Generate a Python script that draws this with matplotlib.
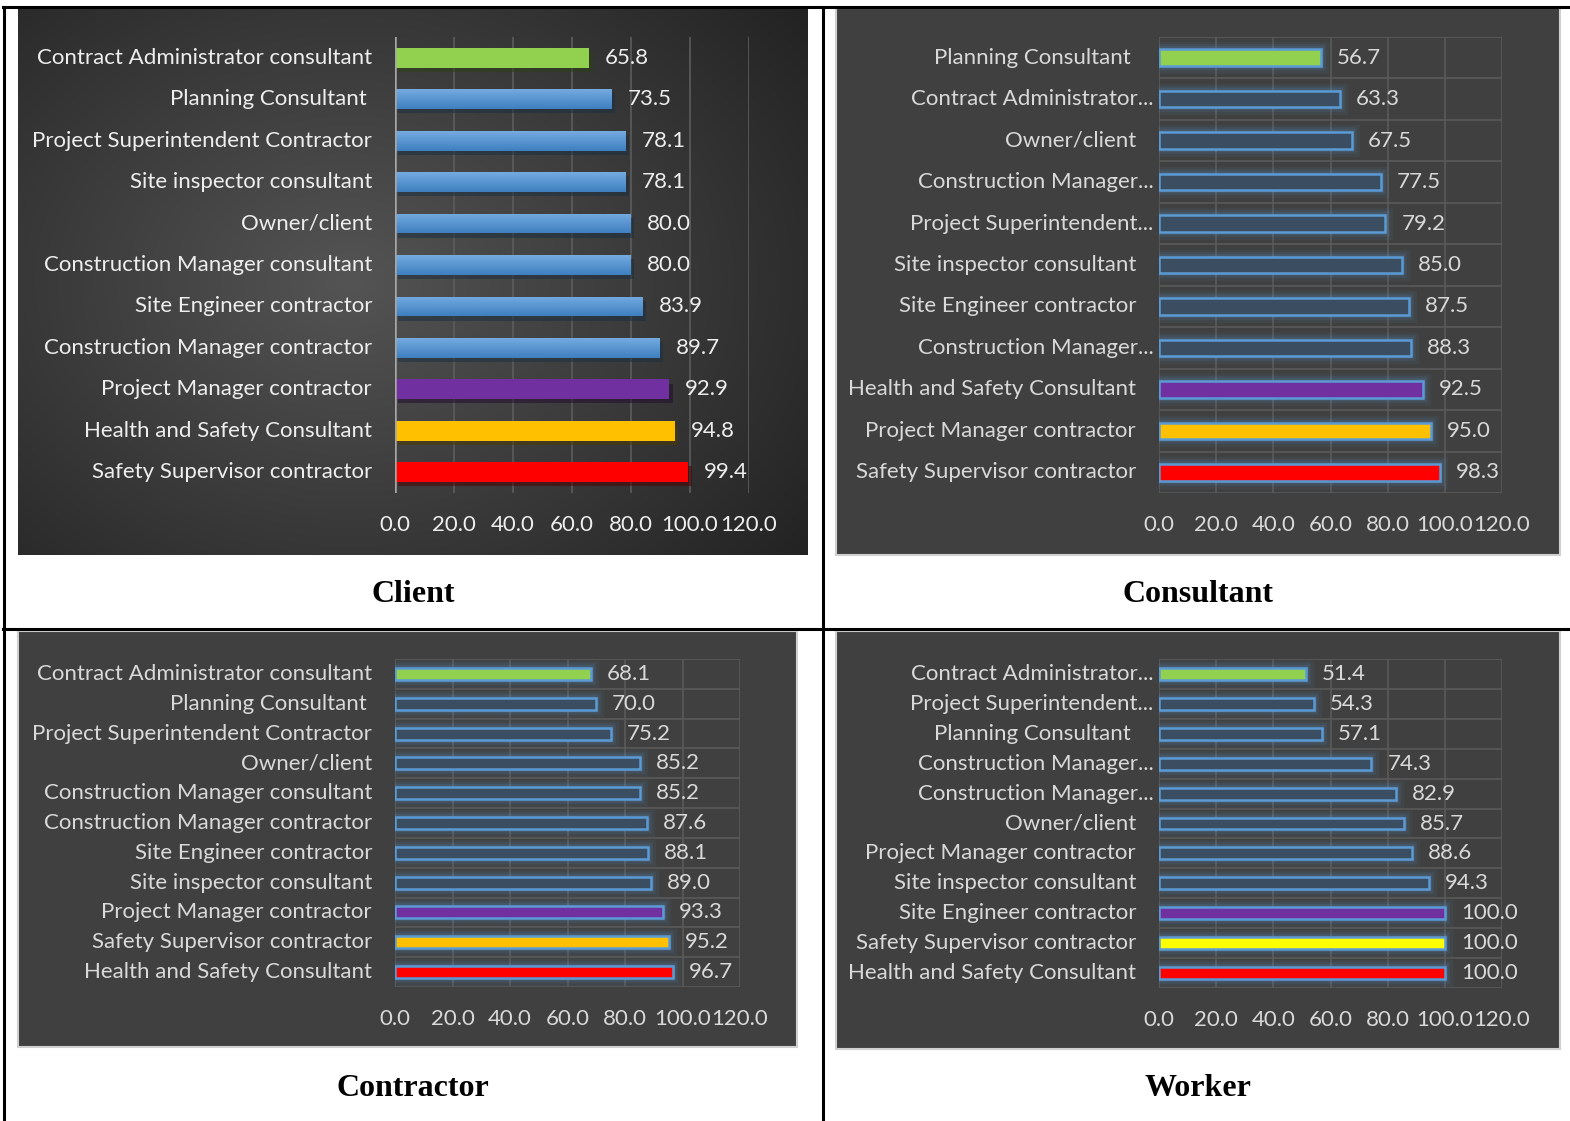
import matplotlib
matplotlib.use("Agg")
import matplotlib.pyplot as plt
import matplotlib.patheffects as pe
from matplotlib.lines import Line2D
from matplotlib.patches import Rectangle
import numpy as np

W, H = 1570, 1121

# ---- data (top to bottom as shown) ----
client_labels = [
    "Contract Administrator consultant", "Planning Consultant ",
    "Project Superintendent Contractor", "Site inspector consultant",
    "Owner/client", "Construction Manager consultant", "Site Engineer contractor",
    "Construction Manager contractor", "Project Manager contractor",
    "Health and Safety Consultant", "Safety Supervisor contractor",
]
client_values = [65.8, 73.5, 78.1, 78.1, 80.0, 80.0, 83.9, 89.7, 92.9, 94.8, 99.4]

consultant_labels = [
    "Planning Consultant ", "Contract Administrator...", "Owner/client",
    "Construction Manager...", "Project Superintendent...", "Site inspector consultant",
    "Site Engineer contractor", "Construction Manager...", "Health and Safety Consultant",
    "Project Manager contractor", "Safety Supervisor contractor",
]
consultant_values = [56.7, 63.3, 67.5, 77.5, 79.2, 85.0, 87.5, 88.3, 92.5, 95.0, 98.3]

contractor_labels = [
    "Contract Administrator consultant", "Planning Consultant ",
    "Project Superintendent Contractor", "Owner/client",
    "Construction Manager consultant", "Construction Manager contractor",
    "Site Engineer contractor", "Site inspector consultant",
    "Project Manager contractor", "Safety Supervisor contractor",
    "Health and Safety Consultant",
]
contractor_values = [68.1, 70.0, 75.2, 85.2, 85.2, 87.6, 88.1, 89.0, 93.3, 95.2, 96.7]

worker_labels = [
    "Contract Administrator...", "Project Superintendent...", "Planning Consultant ",
    "Construction Manager...", "Construction Manager...", "Owner/client",
    "Project Manager contractor", "Site inspector consultant", "Site Engineer contractor",
    "Safety Supervisor contractor", "Health and Safety Consultant",
]
worker_values = [51.4, 54.3, 57.1, 74.3, 82.9, 85.7, 88.6, 94.3, 100.0, 100.0, 100.0]

x_ticks = [0, 20, 40, 60, 80, 100, 120]

# ---- styles ----
BLUE = "#5b9bd5"
GREEN = "#92d050"
PURPLE = "#7030a0"
ORANGE = "#ffc000"
RED = "#ff0000"
client_colors = [GREEN] + [BLUE] * 7 + [PURPLE, ORANGE, RED]
outline_colors = [GREEN] + [None] * 7 + [PURPLE, ORANGE, RED]
worker_colors = [GREEN] + [None] * 7 + [PURPLE, "#ffff00", RED]

FONT = "Lato"
LABEL_SIZE = 16

plt.rcParams["font.family"] = [FONT, "DejaVu Sans"]

fig = plt.figure(figsize=(W / 100, H / 100), dpi=100)


def fx(px):
    return px / W


def fy(py):
    return 1 - py / H


def add_axes_px(x0, y0, x1, y1, **kw):
    return fig.add_axes([fx(x0), fy(y1), fx(x1) - fx(x0), (y1 - y0) / H], **kw)


# ---- panel backgrounds ----
bg = add_axes_px(18, 8, 808, 555, zorder=0)
yy, xx = np.mgrid[0:1:300j, 0:1:400j]
r = np.sqrt(((xx - 0.42) / 0.75) ** 2 + ((yy - 0.5) / 0.85) ** 2)
shade = np.clip(0.33 - 0.2 * r, 0.13, 0.33)
bg.imshow(np.dstack([shade] * 3), aspect="auto", extent=[0, 1, 0, 1], interpolation="bilinear")
bg.set_axis_off()

for (x0, y0, x1, y1) in [(836, 8, 1560, 555), (18, 631, 797, 1047), (836, 631, 1560, 1049)]:
    fig.add_artist(Rectangle((fx(x0), fy(y1)), fx(x1) - fx(x0), (y1 - y0) / H,
                             transform=fig.transFigure, facecolor="#404040",
                             edgecolor="#d0d0d0", linewidth=1.5, zorder=0))

# ---- table lines ----
line_kw = dict(color="black", linewidth=2.2, transform=fig.transFigure, zorder=5)
fig.add_artist(Line2D([fx(3), 1], [fy(6.5), fy(6.5)], **line_kw))
fig.add_artist(Line2D([fx(3), 1], [fy(629), fy(629)], **line_kw))
fig.add_artist(Line2D([fx(3.5), fx(3.5)], [fy(6.5), 0], **line_kw))
fig.add_artist(Line2D([fx(822.5), fx(822.5)], [fy(6.5), 0], **line_kw))

# ---- captions ----
for text, cx, cy in [("Client", 413, 594), ("Consultant", 1198, 594),
                     ("Contractor", 413, 1088), ("Worker", 1198, 1088)]:
    fig.text(fx(cx), fy(cy), text, ha="center", va="center", fontsize=23,
             fontweight="bold", family="Liberation Serif")


def setup_axis(ax, labels, text_color):
    n = len(labels)
    ax.set_xlim(0, 120)
    ax.set_ylim(n - 0.5, -0.5)
    ax.set_facecolor("none")
    for s in ax.spines.values():
        s.set_visible(False)
    ax.set_yticks([])
    ax.set_xticks(x_ticks, [f"{t:.1f}" for t in x_ticks])
    ax.tick_params(axis="x", length=0, pad=16, labelsize=LABEL_SIZE, labelcolor=text_color)
    for i, lab in enumerate(labels):
        pad = -4 if lab.endswith("...") else -16.5
        ax.annotate(lab, xy=(0, i), xytext=(pad, 0), textcoords="offset points",
                    ha="right", va="center", fontsize=LABEL_SIZE, color=text_color,
                    annotation_clip=False)


def value_labels(ax, values, text_color):
    for i, v in enumerate(values):
        ax.annotate(f"{v:.1f}", xy=(v, i), xytext=(11.5, 0), textcoords="offset points",
                    ha="left", va="center", fontsize=LABEL_SIZE, color=text_color,
                    annotation_clip=False)


# ---- Client panel ----
ax = add_axes_px(395, 37, 749, 493, zorder=2)
setup_axis(ax, client_labels, "#eeeeee")
for t in x_ticks[1:]:
    ax.axvline(t, color="#5c5c5c", linewidth=1.2, zorder=1)
ax.axvline(0, color="#a6a6a6", linewidth=1.8, zorder=4)
y = np.arange(len(client_values))
bars = ax.barh(y, client_values, height=0.48, color=client_colors, zorder=3,
               path_effects=[pe.SimplePatchShadow(offset=(2.5, -3), alpha=0.55), pe.Normal()])
grad = np.linspace(0, 1, 50)[:, None]
for bar, col, val, yi in zip(bars, client_colors, client_values, y):
    if col == BLUE:
        cm = matplotlib.colors.LinearSegmentedColormap.from_list("b", ["#74abe0", "#3f7fc0"])
        im = ax.imshow(grad, cmap=cm, aspect="auto", extent=[0, val, yi + 0.24, yi - 0.24],
                       zorder=3.5, interpolation="bilinear")
        im.set_clip_path(bar)
ax.set_xlim(0, 120)
ax.set_ylim(len(client_values) - 0.5, -0.5)
value_labels(ax, client_values, "#eeeeee")


# ---- hollow-bar panels ----
glow = [pe.Stroke(linewidth=11, foreground=BLUE, alpha=0.07),
        pe.Stroke(linewidth=7, foreground=BLUE, alpha=0.1),
        pe.Stroke(linewidth=4, foreground=BLUE, alpha=0.15),
        pe.Normal()]


def hollow_panel(box, labels, values, colors, height):
    ax = add_axes_px(*box, zorder=2)
    setup_axis(ax, labels, "#d9d9d9")
    n = len(values)
    for t in x_ticks:
        ax.axvline(t, color="#5a5a5a", linewidth=1.2, zorder=1)
    for b in np.arange(n + 1) - 0.5:
        ax.axhline(b, color="#5a5a5a", linewidth=1.2, zorder=1)
    faces = [c if c else "#3b4d61" for c in colors]
    ax.barh(np.arange(n), values, height=height, color=faces, edgecolor=BLUE,
            linewidth=1.8, zorder=3, path_effects=glow)
    value_labels(ax, values, "#d9d9d9")
    return ax


hollow_panel((1159, 37, 1502, 493), consultant_labels, consultant_values, outline_colors, 0.4)
hollow_panel((395, 659, 740, 987), contractor_labels, contractor_values, outline_colors, 0.4)
hollow_panel((1159, 659, 1502, 988), worker_labels, worker_values, worker_colors, 0.4)

fig.savefig("out.png", dpi=100)
